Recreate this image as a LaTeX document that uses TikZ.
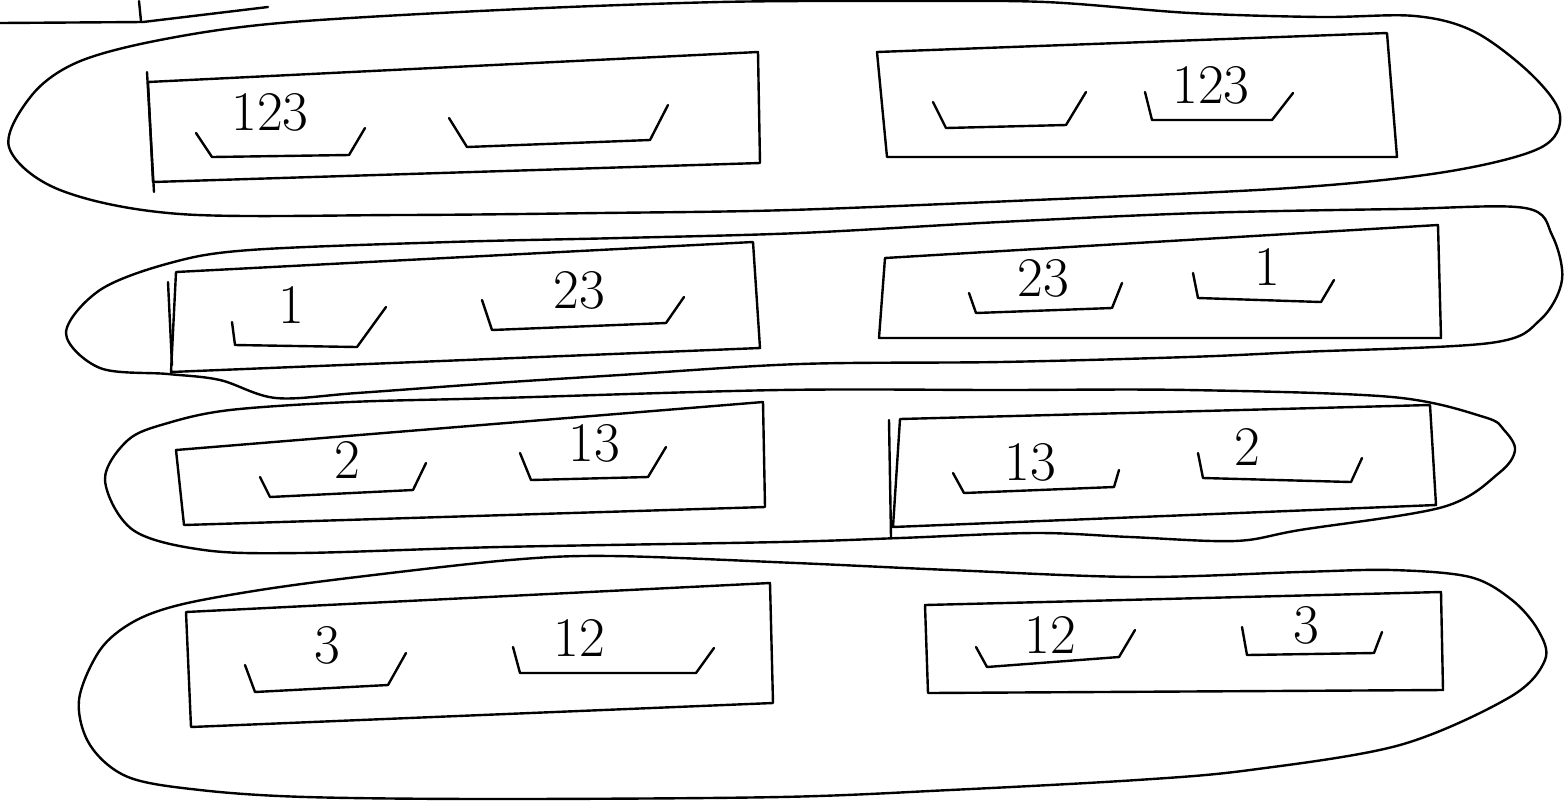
\documentclass[tikz,border=0pt]{standalone}
\usepackage{tikz}
\tikzset{x=.5pt,y=-.5pt}
\usetikzlibrary{calc}
\tikzset{hand/.style={line width=1.2pt, line join=round, line cap=round},
  loop/.style={hand, smooth cycle, tension=.55},
  digits/.style={font=\fontsize{28}{30}\selectfont, inner sep=0pt}}
% a tray: left tick, bottom, right tick, then its digits
\newcommand{\tray}[7]{\draw[hand] #2 -- #3 -- #4 -- #5;
  \node[digits] (#1) at #6 {#7};}
\newcommand{\crate}[4]{\draw[hand] #1 -- #2 -- #3 -- #4 -- cycle;}

\begin{document}
\begin{tikzpicture}
\useasboundingbox (0,0) rectangle (1564,805);
% scrap of the sketch above
\draw[hand] (139,1) -- (141,21);
\draw[hand] (0,23) -- (143,22) -- (268,7);

% loops
\draw[loop] plot coordinates {(9,147) (32,95) (78,62) (160,40) (280,23) (500,10)
  (720,2) (900,1) (1045,2) (1190,13) (1320,17) (1415,16) (1475,32) (1532,75)
  (1560,115) (1540,148) (1445,172) (1290,188) (1035,200) (790,210) (600,213)
  (400,215) (180,214) (60,190)};
\draw[loop] plot coordinates {(66,333) (100,290) (170,263) (250,250) (450,242)
  (620,238) (800,233) (1000,222) (1200,213) (1400,209) (1525,208) (1552,235)
  (1562,280) (1540,320) (1490,343) (1300,352) (1188,357) (1000,362) (800,364)
  (620,375) (495,383) (357,393) (276,398) (220,380) (168,374) (100,368)};
\draw[loop] plot coordinates {(105,480) (128,440) (168,423) (230,410) (350,402)
  (500,398) (780,390) (1000,390) (1188,390) (1392,397) (1484,417) (1504,430)
  (1515,450) (1499,473) (1443,507) (1300,530) (1235,541) (1130,537) (1035,533)
  (900,538) (780,542) (500,547) (300,553) (204,550) (133,530)};
\draw[loop] plot coordinates {(79,700) (100,650) (133,622) (179,605) (260,590)
  (357,577) (510,560) (612,556) (796,563) (950,570) (1137,577) (1300,572)
  (1392,570) (1470,577) (1512,600) (1538,630) (1545,660) (1510,697)
  (1400,745) (1250,770) (1137,780) (950,790) (780,797) (500,799) (306,797)
  (200,790) (128,777) (90,745)};

% row 1
\crate{(148,82)}{(758,52)}{(760,163)}{(153,182)}
\draw[hand] (147,72) -- (154,192);
\tray{a1}{(196,133)}{(212,157)}{(349,155)}{(365,128)}{(270,112)}{123}
\draw[hand] (449,118) -- (467,147) -- (650,140) -- (668,105);
\crate{(877,52)}{(1387,33)}{(1397,157)}{(887,157)}
\draw[hand] (933,102) -- (946,128) -- (1066,125) -- (1086,92);
\tray{b1}{(1145,92)}{(1152,120)}{(1272,120)}{(1293,93)}{(1211,85)}{123}

% row 2
\crate{(176,272)}{(753,242)}{(760,348)}{(171,372)}
\draw[hand] (168,282) -- (172,365);
\tray{a2}{(232,322)}{(235,345)}{(357,347)}{(386,307)}{(291,305)}{1}
\tray{c2}{(482,300)}{(492,330)}{(666,323)}{(684,297)}{(579,290)}{23}
\crate{(885,258)}{(1438,225)}{(1441,338)}{(879,338)}
\tray{b2}{(969,293)}{(976,313)}{(1112,308)}{(1122,283)}{(1043,278)}{23}
\tray{d2}{(1193,273)}{(1198,298)}{(1321,302)}{(1334,280)}{(1267,267)}{1}

% row 3
\crate{(176,450)}{(763,402)}{(765,507)}{(184,525)}
\tray{a3}{(260,477)}{(270,497)}{(413,490)}{(426,463)}{(347,460)}{2}
\tray{c3}{(520,453)}{(531,480)}{(648,477)}{(666,447)}{(594,443)}{13}
\crate{(900,419)}{(1430,405)}{(1436,505)}{(893,527)}
\draw[hand] (889,420) -- (891,537);
\tray{b3}{(953,473)}{(964,493)}{(1114,487)}{(1119,470)}{(1030,462)}{13}
\tray{d3}{(1198,453)}{(1203,478)}{(1351,482)}{(1362,458)}{(1247,447)}{2}

% row 4
\crate{(186,612)}{(770,583)}{(773,703)}{(191,727)}
\tray{a4}{(245,665)}{(255,692)}{(388,685)}{(406,653)}{(327,645)}{3}
\tray{c4}{(513,647)}{(520,673)}{(696,673)}{(714,648)}{(579,638)}{12}
\crate{(925,605)}{(1441,592)}{(1443,690)}{(928,693)}
\tray{b4}{(976,647)}{(987,667)}{(1119,657)}{(1135,630)}{(1050,635)}{12}
\tray{d4}{(1242,627)}{(1247,655)}{(1374,653)}{(1382,632)}{(1306,625)}{3}
\end{tikzpicture}
\end{document}
